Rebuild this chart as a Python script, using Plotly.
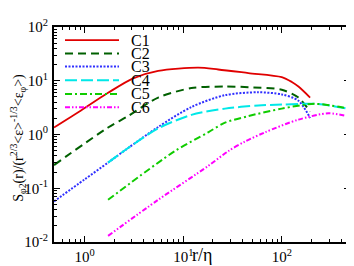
import plotly.graph_objects as go

# ---- data (r/eta, normalized structure function) ----
names = ["C1", "C2", "C3", "C4", "C5", "C6"]

r_c1 = [0.49, 0.92, 1.73, 3.1, 5.57, 14.2, 22.6, 45.7, 99.6, 126, 147, 193]
s_c1 = [1.35, 2.8, 5.96, 11.1, 15.3, 17.5, 16.2, 13.9, 11.7, 9.5, 7.8, 4.87]

r_c2 = [0.49, 1.73, 2.76, 5.57, 12.1, 26.5, 45.7, 99.6, 147, 193]
s_c2 = [0.27, 1.35, 2.2, 4.87, 7.3, 7.8, 7.6, 6.8, 4.87, 2.66]

r_c3 = [0.49, 1.0, 1.73, 2.76, 5.57, 12.1, 26.5, 57.7, 99.6, 147, 193]
s_c3 = [0.057, 0.146, 0.30, 0.56, 1.38, 3.25, 5.4, 6.1, 5.57, 4.25, 2.03]

r_c4 = [1.73, 2.76, 5.57, 12.1, 26.5, 57.7, 99.6, 217, 480]
s_c4 = [0.30, 0.56, 1.3, 2.32, 3.03, 3.47, 3.6, 3.72, 3.0]

r_c5 = [1.73, 8.2, 17.9, 26.5, 45.7, 99.6, 217, 480]
s_c5 = [0.061, 0.49, 1.1, 1.66, 2.2, 3.03, 3.72, 3.0]

r_c6 = [1.73, 5.57, 17.9, 28.6, 42.3, 67.5, 147, 297, 480]
s_c6 = [0.013, 0.061, 0.26, 0.49, 0.74, 1.1, 1.89, 2.48, 2.15]

xs = [r_c1, r_c2, r_c3, r_c4, r_c5, r_c6]
ys = [s_c1, s_c2, s_c3, s_c4, s_c5, s_c6]

x_major = [1, 10, 100]
x_major_text = ["10<sup>0</sup>", "10<sup>1</sup>", "10<sup>2</sup>"]
y_major = [0.01, 0.1, 1, 10, 100]
y_major_text = ["10<sup>-2</sup>", "10<sup>-1</sup>", "10<sup>0</sup>", "10<sup>1</sup>", "10<sup>2</sup>"]
x_minor = [0.5, 0.6, 0.7, 0.8, 0.9, 2, 3, 4, 5, 6, 7, 8, 9,
           20, 30, 40, 50, 60, 70, 80, 90, 200, 300, 400]
y_minor = [0.02, 0.03, 0.04, 0.05, 0.06, 0.07, 0.08, 0.09,
           0.2, 0.3, 0.4, 0.5, 0.6, 0.7, 0.8, 0.9,
           2, 3, 4, 5, 6, 7, 8, 9, 20, 30, 40, 50, 60, 70, 80, 90]

colors = ["#e00000", "#006000", "#3030ff", "#00e8e8", "#10cc00", "#ff00ff"]
dashes = ["solid", "8px,5px", "2px,1.5px", "12px,4px", "7px,3px,2px,3px",
          "5px,2px,1.5px,2px,1.5px,2px"]
widths = [1.8, 2, 2, 2, 2, 2]

FONT = "Liberation Serif, Times New Roman, serif"

fig = go.Figure()
for n, x, y, c, d, w in zip(names, xs, ys, colors, dashes, widths):
    fig.add_trace(go.Scatter(x=x, y=y, mode="lines", name=n,
                             line=dict(color=c, dash=d, width=w, shape="spline", smoothing=0.8),
                             showlegend=False))

# manual legend (key lines + labels) in the upper left of the plot area
L, R, T, B = 46, 12, 9, 29
W, H = 354, 266
pw, ph = W - L - R, H - T - B
row_y = [23, 37, 51, 65.5, 80, 94]
for n, c, d, w, py in zip(names, colors, dashes, widths, row_y):
    yp = (H - B - py) / ph
    fig.add_shape(type="line", xref="paper", yref="paper",
                  x0=(57 - L) / pw, x1=(111 - L) / pw, y0=yp, y1=yp,
                  line=dict(color=c, dash=d, width=w))
    fig.add_annotation(text=n, xref="paper", yref="paper", x=(121 - L) / pw, y=yp,
                       xanchor="left", yanchor="middle", showarrow=False,
                       font=dict(family=FONT, size=16, color="black"))

def axis(major, major_text, minor):
    return dict(type="log", showgrid=False, zeroline=False, showline=True,
                linecolor="black", linewidth=2, mirror="allticks",
                ticks="inside", ticklen=6, tickwidth=1, tickcolor="black",
                tickmode="array", tickvals=major, ticktext=major_text,
                tickfont=dict(family=FONT, size=15, color="black"),
                minor=dict(ticks="inside", ticklen=3, tickwidth=1, tickcolor="black",
                           showgrid=False, tickmode="array", tickvals=minor))

fig.update_xaxes(range=[-0.31, 2.69], **axis(x_major, x_major_text, x_minor))
fig.update_yaxes(range=[-2, 2], ticklabelstandoff=1, **axis(y_major, y_major_text, y_minor))

fig.add_annotation(text="r/η", xref="paper", yref="paper", x=0.5, y=-0.06,
                   xanchor="center", yanchor="middle", showarrow=False,
                   font=dict(family=FONT, size=18, color="black"))
fig.add_annotation(text="S<sub>φ2</sub>(r)/(r<sup>2/3</sup>&lt;ε&gt;<sup>-1/3</sup>&lt;ε<sub>φ</sub>&gt;)",
                   xref="paper", yref="paper", x=-0.12, y=0.487, textangle=-90,
                   xanchor="center", yanchor="middle", showarrow=False,
                   font=dict(family=FONT, size=14, color="black"))

fig.update_layout(width=W, height=H, margin=dict(l=L, r=R, t=T, b=B),
                  plot_bgcolor="white", paper_bgcolor="white", showlegend=False)

fig.write_html("out.html")
